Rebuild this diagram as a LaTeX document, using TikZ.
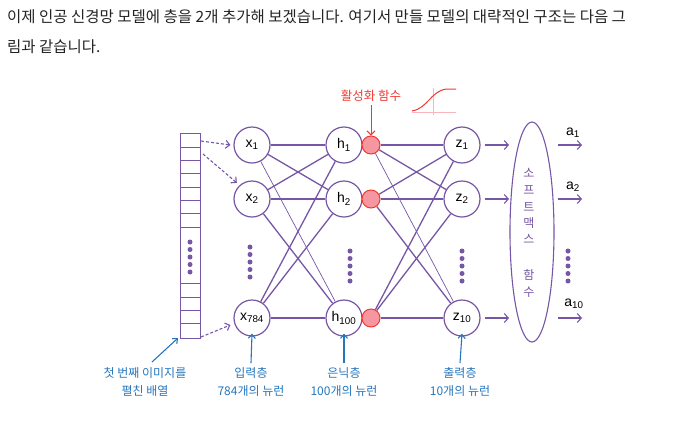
\documentclass[tikz,border=0pt]{standalone}
\usepackage{fontspec}
\setmainfont{Liberation Sans}
\newfontfamily\kr{Noto Sans CJK KR}
\usetikzlibrary{arrows.meta,shapes.geometric,backgrounds}
\definecolor{pur}{RGB}{118,86,165}
\definecolor{blu}{RGB}{38,118,190}
\definecolor{rd}{RGB}{238,58,50}
\definecolor{pk}{RGB}{246,150,160}
\definecolor{txt}{RGB}{35,35,35}
\begin{document}
\begin{tikzpicture}[x=1pt,y=-1pt,
  neuron/.style={circle,draw=pur,line width=1.2pt,fill=white,minimum size=36pt,inner sep=0pt,font=\fontsize{14}{15}\selectfont},
  act/.style={circle,draw=rd,line width=1pt,fill=pk,minimum size=18pt,inner sep=0pt},
  wire/.style={pur,line width=1.3pt},
  thinwire/.style={pur,line width=0.7pt},
  outarr/.style={pur,line width=1.1pt,-{Straight Barb[length=4pt,width=9pt]}},
  dasharr/.style={pur,line width=1.1pt,dash pattern=on 3pt off 2pt,-{Straight Barb[length=4pt,width=8pt]}},
  bluearr/.style={blu,line width=1.1pt,-{Straight Barb[length=4pt,width=7pt]}},
  blab/.style={blu,font=\kr\fontsize{12}{18}\selectfont,align=center},
  vdot/.style={circle,fill=pur,inner sep=0pt,minimum size=5pt},
  para/.style={anchor=west,txt,font=\kr\fontsize{15.5}{18}\selectfont,inner sep=0pt}
]
\useasboundingbox (0,0) rectangle (689,424);
% paragraph
\node[para] (p1) at (7,17) {이제 인공 신경망 모델에 층을 2개 추가해 보겠습니다. 여기서 만들 모델의 대략적인 구조는 다음 그};
\node[para] (p2) at (7,47) {림과 같습니다.};

% input column
\draw[pur,line width=1pt] (180,133) rectangle (200,338);
\foreach \yy in {147,160,173,187,200,213,227,283,297,310,323}
  \draw[pur,line width=1pt] (180,\yy) -- (200,\yy);
\foreach \yy [count=\i] in {242,249.5,257,264.5,272}
  \node[vdot] (cd\i) at (190,\yy) {};
\coordinate (c1) at (201,141);
\coordinate (c2) at (203,154);
\coordinate (cN) at (201,337);

% neurons
\node[neuron] (x1) at (252,145) {x\textsubscript{1}};
\node[neuron] (x2) at (252,199) {x\textsubscript{2}};
\node[neuron] (x3) at (252,318) {x\textsubscript{784}};
\node[neuron] (h1) at (344,145) {h\textsubscript{1}};
\node[neuron] (h2) at (344,199) {h\textsubscript{2}};
\node[neuron] (h3) at (344,318) {h\textsubscript{100}};
\node[act] (r1) at (371,145) {};
\node[act] (r2) at (371,199) {};
\node[act] (r3) at (371,318) {};
\node[neuron] (z1) at (462,145) {z\textsubscript{1}};
\node[neuron] (z2) at (462,199) {z\textsubscript{2}};
\node[neuron] (z3) at (462,318) {z\textsubscript{10}};

% connections
\begin{scope}[on background layer]
\foreach \a/\b in {x1/h1,x1/h2,x2/h1,x2/h2,x2/h3,x3/h1,x3/h2,x3/h3}
  \draw[wire] (\a) -- (\b);
\draw[thinwire] (x1) -- (h3);
\foreach \a/\b in {r1/z1,r1/z2,r2/z1,r2/z2,r2/z3,r3/z1,r3/z2,r3/z3}
  \draw[wire] (\a) -- (\b);
\draw[thinwire] (r1) -- (z3);
\end{scope}

% vertical dots
\foreach \yy [count=\i] in {247,254.5,262,269.5,277}
  \node[vdot] (xd\i) at (250,\yy) {};
\foreach \yy [count=\i] in {251,258.5,266,273.5,281}
  \node[vdot] (hd\i) at (350,\yy) {};
\foreach \yy [count=\i] in {251,258.5,266,273.5,281}
  \node[vdot] (zd\i) at (462,\yy) {};
\foreach \yy [count=\i] in {251,258.5,266,273.5,281}
  \node[vdot] (ad\i) at (568,\yy) {};

% dashed input arrows
\draw[dasharr] (c1) -- ([xshift=-3pt]x1.west);
\draw[dasharr] (c2) -- ([xshift=-2pt,yshift=3pt]x2.north west);
\draw[dasharr] (cN) -- ([xshift=-3pt,yshift=-7pt]x3.west);

% softmax
\node[draw=pur,line width=1.1pt,ellipse,minimum width=44pt,minimum height=220pt,inner sep=0pt] (sm) at (532,232) {};
\foreach \ch/\yy in {소/173,프/190,트/207,맥/223,스/239,함/275,수/292}
  \node[pur,font=\kr\fontsize{12}{12}\selectfont,inner sep=0pt] at (529,\yy) {\ch};
\coordinate (s1) at (509,145);
\coordinate (s2) at (509,199);
\coordinate (s3) at (509,318);
\draw[outarr] ([xshift=4pt]z1.east) -- (s1);
\draw[outarr] ([xshift=4pt]z2.east) -- (s2);
\draw[outarr] ([xshift=4pt]z3.east) -- (s3);
\coordinate (o1) at (582,145);
\coordinate (o2) at (582,199);
\coordinate (o3) at (582,318);
\draw[outarr] (558,145) -- (o1);
\draw[outarr] (558,199) -- (o2);
\draw[outarr] (558,318) -- (o3);
\node[font=\fontsize{14}{15}\selectfont,text=black] (a1) at (573,133) {a\textsubscript{1}};
\node[font=\fontsize{14}{15}\selectfont,text=black] (a2) at (573,187) {a\textsubscript{2}};
\node[font=\fontsize{14}{15}\selectfont,text=black] (a3) at (574,304) {a\textsubscript{10}};

% activation label
\node[rd,font=\kr\fontsize{12.5}{14}\selectfont,inner sep=1pt] (actl) at (371,96) {활성화 함수};
\draw[rd,line width=1pt,-{Straight Barb[length=4pt,width=8pt]}] (actl.south) ++(0,2) -- (r1.north);
% sigmoid icon
\draw[pk!70,line width=0.8pt] (433,88) -- (433,115);
\draw[pk!70,line width=0.8pt] (412,112) -- (456,112);
\draw[rd,line width=1pt] (412,111) .. controls (428,108) and (430,92) .. (446,89) -- (456,89);

% bottom labels
\node[blab] (lin) at (145,382) {첫 번째 이미지를\\펼친 배열};
\draw[bluearr] (152,362) -- (178,338);
\node[blab] (l1) at (251,382) {입력층\\784개의 뉴런};
\node[blab] (l2) at (344,382) {은닉층\\100개의 뉴런};
\node[blab] (l3) at (460,382) {출력층\\10개의 뉴런};
\draw[bluearr] (l1.north) ++(0,-1) -- ([yshift=3pt]x3.south);
\draw[bluearr] (l2.north) ++(0,-1) -- ([yshift=3pt]h3.south);
\draw[bluearr] (l3.north) ++(0,-1) -- ([yshift=3pt]z3.south);
\end{tikzpicture}
\end{document}
